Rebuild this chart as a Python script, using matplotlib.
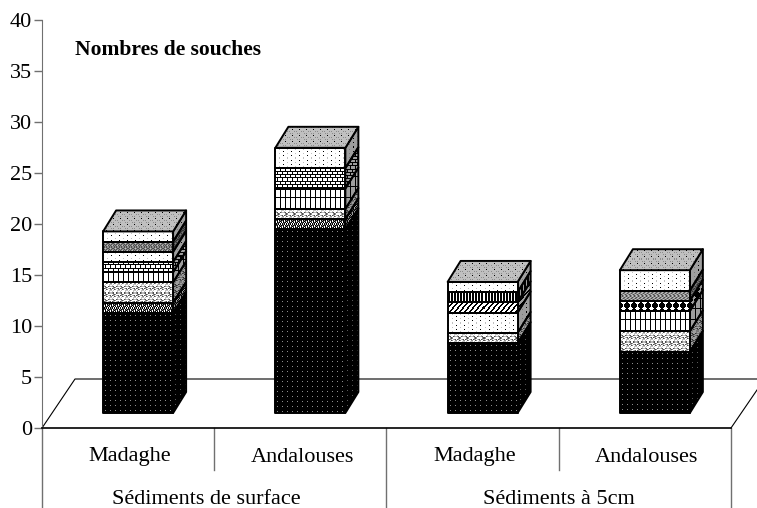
import numpy as np
import matplotlib
matplotlib.use('Agg')
import matplotlib.pyplot as plt
from matplotlib.patches import Polygon

plt.rcParams['font.family'] = ['Liberation Serif', 'DejaVu Serif']

# data, bottom to top of each stack
BARS = ['Madaghe', 'Andalouses', 'Madaghe', 'Andalouses']
GROUPS = ['Sédiments de surface', 'Sédiments à 5cm']
black = [9.8, 18, 6.85, 6]
checker = [1, 1, 0, 0]
wave = [2, 1, 1, 2]
grid = [1, 2, 0, 2]
brick = [1, 2, 0, 0]
dots = [1, 0, 2, 0]
diag = [0, 0, 1, 0]
stripes = [0, 0, 1, 0]
diamond = [0, 0, 0, 1]
dense = [0, 0, 0, 1]
dark = [1, 0, 0, 0]
topdots = [1, 2, 1, 2]
YTICKS = [0, 5, 10, 15, 20, 25, 30, 35, 40]
TITLE = 'Nombres de souches'

W, H = 757, 508
CAT_PX = 172.25   # px per category
VAL_PX = 10.2     # px per value unit
BAR_W = 70 / CAT_PX
BAR_SHIFT = 10 / CAT_PX
BASE = 15 / VAL_PX
DX = 13 / CAT_PX
DY = 21 / VAL_PX
FLOOR_X = 33 / CAT_PX
FLOOR_Y = 49 / VAL_PX


def tile(rows):
    key = {'#': 0.0, 'x': 0.3, 'o': 0.55, '+': 0.75, '.': 1.0}
    return np.array([[key[c] for c in r] for r in rows])


T_BLACK = tile(['#####', '#####', '##o##', '#####', '#####'])
T_DOTS = tile(['#.......', '........', '....+...', '........'])
T_CHECK = tile(['#.#x#.', '.#o#.#', '#x#.#o', 'x.#.x#'])
T_WAVE = tile(['.xo+.+ox', 'o..xo..o', '+.+...++', '.+....+.', '+ox..xo+', '..oxo...'])
T_GRID = tile(['#....', '#....', '#....', '#....', '#....', '#....', '#....', '#....', '#....', '#####'])
T_BRICK = tile(['#####', '#....', '#....', '#####', '..#..', '..#..'])
T_DIAG = tile(['##...', '.##..', '..##.', '...##', '#...#'])
T_DIAG = T_DIAG[::-1]
T_STRIPES = tile(['##.', '##.', '##.'])
T_DIAMOND = tile(['###.###', '##...##', '#.....#', '##...##', '###.###'])
T_DENSE = tile(['oxo+', '+oxo', 'xo+o', 'o+ox'])
T_DARK = tile(['xoxo+', 'oxoxo', 'xo+ox', 'oxoxo'])
T_TOP = tile(['+o+o+++', '+++++++', '+++#+++', '+++++++', 'o++++o+', '+++++++'])

SERIES = [(black, T_BLACK), (checker, T_CHECK), (wave, T_WAVE), (grid, T_GRID),
          (brick, T_BRICK), (dots, T_DOTS), (diag, T_DIAG), (stripes, T_STRIPES),
          (diamond, T_DIAMOND), (dense, T_DENSE), (dark, T_DARK), (topdots, T_DOTS)]


def fill(ax, pts, pattern, shade=1.0, z=3):
    pts = np.array(pts, float)
    x0, y0 = pts.min(axis=0)
    x1, y1 = pts.max(axis=0)
    w = max(int(round((x1 - x0) * CAT_PX)), 1)
    h = max(int(round((y1 - y0) * VAL_PX)), 1)
    ny, nx = pattern.shape
    img = np.tile(pattern, (h // ny + 1, w // nx + 1))[:h, :w] * shade
    im = ax.imshow(img, extent=(x0, x1, y0, y1), cmap='gray', vmin=0, vmax=1,
                   interpolation='nearest', aspect='auto', zorder=z)
    poly = Polygon(pts, closed=True, facecolor='none', edgecolor='black', lw=1.4, zorder=z + 0.1,
                   joinstyle='round', clip_on=False)
    ax.add_patch(poly)
    im.set_clip_path(poly)
    return im


fig = plt.figure(figsize=(W / 100, H / 100), dpi=100)
ax = fig.add_axes([42 / W, 1 - 428 / H, 689 / W, 408 / H])
ax.patch.set_visible(False)

# floor of the 3D box
n = len(BARS)
ax.plot([0, FLOOR_X, n + 26 / CAT_PX + 1], [0, FLOOR_Y, FLOOR_Y], color='black', lw=0.8, clip_on=False, zorder=1)
ax.plot([n, n + 26 / CAT_PX], [0, 38 / VAL_PX], color='black', lw=0.8, clip_on=False, zorder=1)

# stacks
for i in range(n):
    left = i + 0.5 - BAR_W / 2 + BAR_SHIFT
    right = left + BAR_W
    y = BASE
    for values, pattern in SERIES:
        v = values[i]
        if v == 0:
            continue
        top = y + v
        fill(ax, [(right, y), (right + DX, y + DY), (right + DX, top + DY), (right, top)], pattern, 0.62, 3)
        fill(ax, [(left, y), (right, y), (right, top), (left, top)], pattern, 1.0, 4)
        y = top
    fill(ax, [(left, y), (right, y), (right + DX, y + DY), (left + DX, y + DY)], T_TOP, 1.0, 5)

ax.set_xlim(0, n)
ax.set_ylim(0, 40)
ax.set_yticks(YTICKS)
ax.set_xticks([])
ax.tick_params(axis='y', direction='out', length=6, width=1, color='#707070', labelsize=16, pad=1)
for s in ['top', 'right', 'bottom']:
    ax.spines[s].set_visible(False)
ax.spines['left'].set_color('#707070')
ax.spines['left'].set_bounds(0, 40)

# category axis, two levels
ax.plot([0, n], [0, 0], color='black', lw=1.2, clip_on=False, zorder=6)
low_short = -42 / VAL_PX
low_long = -80 / VAL_PX
for x, low in [(0, low_long), (1, low_short), (2, low_long), (3, low_short), (4, low_long)]:
    ax.plot([x, x], [0, low], color='#707070', lw=1, clip_on=False, zorder=1)
for i, name in enumerate(BARS):
    ax.text(i + 0.5 + 2 / CAT_PX, -29 / VAL_PX, name, ha='center', va='center', fontsize=16)
ax.text(1 - 8 / CAT_PX, -71 / VAL_PX, GROUPS[0], ha='center', va='center', fontsize=16)
ax.text(3, -71 / VAL_PX, GROUPS[1], ha='center', va='center', fontsize=16)
ax.text(33 / CAT_PX, (428 - 50) / VAL_PX, TITLE, ha='left', va='center', fontsize=15.5, fontweight='bold')

fig.savefig('out.png', dpi=100)
